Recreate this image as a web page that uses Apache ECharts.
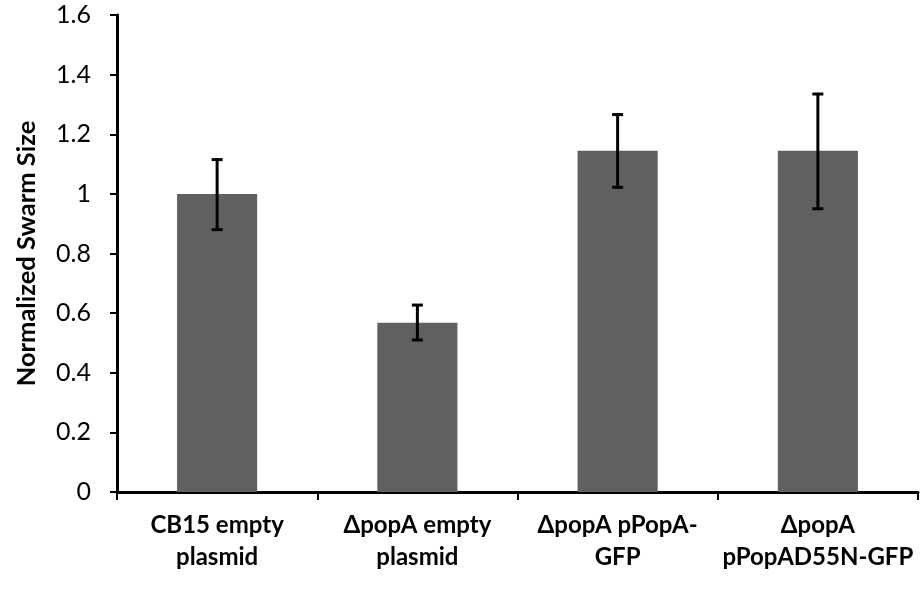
<!DOCTYPE html>
<html>
<head>
<meta charset="utf-8">
<script src="https://cdn.jsdelivr.net/npm/echarts@6/dist/echarts.min.js"></script>
<style>html,body{margin:0;padding:0;background:#fff;}#c{width:922px;height:593px;}</style>
</head>
<body>
<div id="c"></div>
<script>
const categories = ['CB15 empty\nplasmid', 'ΔpopA empty\nplasmid', 'ΔpopA pPopA-\nGFP', 'ΔpopA\npPopAD55N-GFP'];
const values = [1.0, 0.568, 1.145, 1.145];
const errLow = [0.88, 0.51, 1.022, 0.95];
const errHigh = [1.115, 0.627, 1.266, 1.335];
const yTicks = { min: 0, max: 1.6, interval: 0.2 };

const chart = echarts.init(document.getElementById('c'), null, { renderer: 'canvas' });
const font = 'Lato, "Open Sans", sans-serif';
chart.setOption({
  animation: false,
  backgroundColor: '#ffffff',
  grid: { left: 117, right: 4, top: 15, bottom: 101, containLabel: false },
  xAxis: {
    type: 'category',
    data: categories,
    axisLine: { lineStyle: { color: '#000', width: 3 } },
    axisTick: { show: true, length: 8, lineStyle: { color: '#000', width: 2 } },
    axisLabel: { color: '#000', fontFamily: font, fontWeight: 'bold', fontSize: 24, lineHeight: 32, margin: 17, interval: 0 }
  },
  yAxis: {
    type: 'value',
    min: yTicks.min, max: yTicks.max, interval: yTicks.interval,
    name: 'Normalized Swarm Size',
    nameLocation: 'middle',
    nameGap: 77,
    nameTextStyle: { color: '#000', fontFamily: font, fontWeight: 'bold', fontSize: 25.5 },
    axisLine: { show: true, lineStyle: { color: '#000', width: 3 } },
    axisTick: { show: true, length: 7, lineStyle: { color: '#000', width: 2 } },
    splitLine: { show: false },
    axisLabel: { color: '#000', fontFamily: font, fontSize: 25, margin: 26 }
  },
  series: [
    {
      type: 'bar',
      data: values,
      barWidth: '40%',
      itemStyle: { color: '#606060' },
      z: 2
    },
    {
      type: 'custom',
      z: 5,
      data: categories.map((c, i) => [i, errLow[i], errHigh[i]]),
      renderItem: function (params, api) {
        const i = api.value(0);
        const lo = api.coord([i, api.value(1)]);
        const hi = api.coord([i, api.value(2)]);
        const half = 5.5;
        const st = { stroke: '#000', lineWidth: 3 };
        return {
          type: 'group',
          children: [
            { type: 'line', shape: { x1: lo[0], y1: lo[1], x2: hi[0], y2: hi[1] }, style: st },
            { type: 'line', shape: { x1: hi[0] - half, y1: hi[1], x2: hi[0] + half, y2: hi[1] }, style: st },
            { type: 'line', shape: { x1: lo[0] - half, y1: lo[1], x2: lo[0] + half, y2: lo[1] }, style: st }
          ]
        };
      }
    }
  ]
});
</script>
</body>
</html>
